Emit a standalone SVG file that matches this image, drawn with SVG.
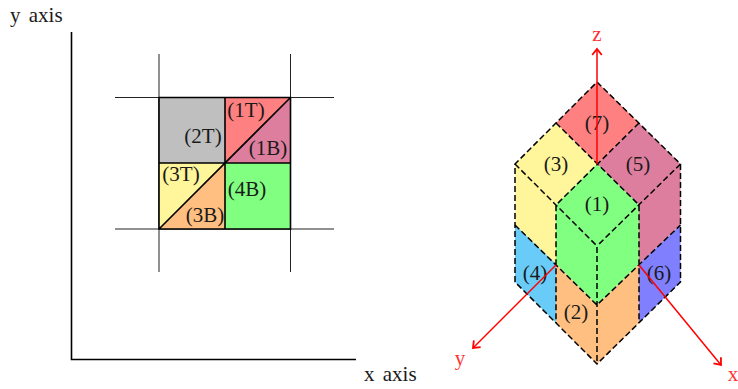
<svg xmlns="http://www.w3.org/2000/svg" width="738" height="389" viewBox="0 0 738 389">
<defs>
<marker id="arr" markerUnits="userSpaceOnUse" markerWidth="12" markerHeight="12" refX="7" refY="5" orient="auto" viewBox="0 0 10 10"><path d="M2 1L7 5L2 9" fill="none" stroke="#f00" stroke-width="1.5"/></marker>
</defs>
<style>
text{font-family:"Liberation Serif",serif;font-size:21px;fill:#1a1a1a}
.w{word-spacing:3px}
.c{text-anchor:middle}
.r{fill:#f33;text-anchor:middle}
.s{stroke:#000;stroke-width:1.6;fill:none}
.t{stroke:#222;stroke-width:1;fill:none}
.d{stroke:#000;stroke-width:1.5;stroke-dasharray:6 3;fill:none}
.a{stroke:#f00;stroke-width:1.5;fill:none;marker-end:url(#arr)}
</style>
<g id="axes">
<path class="s" d="M71.5 32V359.5H356"/>
<text class="w" x="10" y="22">y axis</text>
<text class="w" x="364" y="381">x axis</text>
</g>
<g id="grid">
<path class="t" d="M115 97.500H334M115 229H334M159 54V272M290.500 54V272"/>
</g>
<g id="square-2T"><rect x="159" y="97.500" width="66" height="65.500" fill="#bfbfbf"/><text class="c" x="203" y="143">(2T)</text></g>
<g id="tri-1T"><path d="M225 97.500H290.500L225 163Z" fill="#ff8080"/><text class="c" x="246" y="117">(1T)</text></g>
<g id="tri-1B"><path d="M290.500 97.500V163H225Z" fill="#dd7e9e"/><text class="c" x="268" y="155">(1B)</text></g>
<g id="tri-3T"><path d="M159 163H225L159 229Z" fill="#fff59a"/><text class="c" x="181" y="181">(3T)</text></g>
<g id="tri-3B"><path d="M225 163V229H159Z" fill="#ffbf80"/><text class="c" x="205" y="222">(3B)</text></g>
<g id="square-4B"><rect x="225" y="163" width="65.500" height="66" fill="#80ff80"/><text class="c" x="247" y="196">(4B)</text></g>
<g id="square-edges">
<path class="s" d="M159 97.500H290.500V229H159ZM225 97.500V229M159 163H290.500M290.500 97.500L159 229"/>
</g>
<g id="face-7"><path d="M597 82L639 123L597 164L556 123Z" fill="#ff8080"/></g>
<g id="face-3"><path d="M515 164L556 123L597 164L556 205V264L515 225Z" fill="#fff59a"/></g>
<g id="face-5"><path d="M597 164L639 123L680.500 164V225L639 264V205Z" fill="#dd7e9e"/></g>
<g id="face-1"><path d="M556 205L597 164L639 205V264L597 305L556 264Z" fill="#80ff80"/></g>
<g id="face-4"><path d="M515 225L556 264V323L515 282Z" fill="#69ccf8"/></g>
<g id="face-2"><path d="M556 264L597 305L639 264V323L597 364L556 323Z" fill="#ffbf80"/></g>
<g id="face-6"><path d="M639 264L680.500 225V282L639 323Z" fill="#8080ff"/></g>
<g id="edges">
<path class="d" d="M597 82L680.500 164V282L597 364L515 282V164L597 82"/>
<path class="d" d="M556 123L639 205V323M639 123L556 205V323M515 164L597 246V364M680.500 164L597 246M515 225L597 305L680.500 225"/>
</g>
<g id="labels">
<text class="c" x="597" y="130">(7)</text>
<text class="c" x="556" y="171">(3)</text>
<text class="c" x="638" y="171">(5)</text>
<text class="c" x="597" y="211">(1)</text>
<text class="c" x="535" y="280">(4)</text>
<text class="c" x="576" y="319">(2)</text>
<text class="c" x="659" y="280">(6)</text>
</g>
<g id="connectors">
<path class="a" d="M597 164V49"/>
<path class="a" d="M556 265L473 348"/>
<path class="a" d="M639 265L721 365"/>
</g>
<g id="axis-labels">
<text class="r" x="597" y="41">z</text>
<text class="r" x="460" y="365">y</text>
<text class="r" x="733" y="381">x</text>
</g>
</svg>
